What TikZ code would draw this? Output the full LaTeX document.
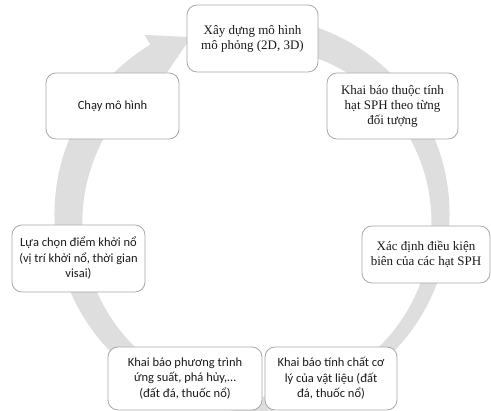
\documentclass[tikz,border=0pt]{standalone}
\usepackage{fontspec}
\setmainfont{Liberation Serif}
\newfontfamily\calfont{Carlito}
\begin{document}
\begin{tikzpicture}[x=1pt,y=1pt,
  stepbox/.style={draw=boxgray, line width=0.8pt, fill=white, rounded corners=10pt,
    align=center, inner sep=2pt, text=textgray},
  serifbox/.style={stepbox, font=\fontsize{13}{15}\selectfont},
  sansbox/.style={stepbox, font=\calfont\fontsize{12.5}{15.5}\selectfont}]
\definecolor{boxgray}{HTML}{A8A8A8}
\definecolor{ringgray}{HTML}{DEDEDE}
\definecolor{textgray}{HTML}{1A1A1A}
\useasboundingbox (0,0) rectangle (491,411);
% ring arrow
\begin{scope}[shift={(252,197)}]
  \fill[ringgray] (80:197.5) arc[start angle=80, end angle=-239, radius=197.5]
    -- (-239:209) -- (-251:187) -- (-239:165)
    arc[start angle=-239, end angle=80, radius=174.5] -- cycle;
\end{scope}
% boxes
\node[serifbox, minimum width=131pt, minimum height=67pt] (b1) at (252.5,372.5) {Xây dựng mô hình\\mô phỏng (2D, 3D)};
\node[serifbox, minimum width=131pt, minimum height=66pt] (b2) at (392.5,305) {Khai báo thuộc tính\\hạt SPH theo từng\\đối tượng};
\node[serifbox, minimum width=128pt, minimum height=57pt] (b3) at (426,156.5) {Xác định điều kiện\\biên của các hạt SPH};
\node[sansbox, minimum width=132pt, minimum height=63pt] (b4) at (331,32.5) {Khai báo tính chất cơ\\lý của vật liệu (đất\\đá, thuốc nổ)};
\node[sansbox, minimum width=154pt, minimum height=63pt] (b5) at (185,32.5) {Khai báo phương trình\\ứng suất, phá hủy,…\\(đất đá, thuốc nổ)};
\node[sansbox, minimum width=133pt, minimum height=67pt] (b6) at (78.5,152.5) {Lựa chọn điểm khởi nổ\\(vị trí khởi nổ, thời gian\\visai)};
\node[sansbox, minimum width=133pt, minimum height=66pt] (b7) at (112.5,305) {Chạy mô hình};
\end{tikzpicture}
\end{document}
